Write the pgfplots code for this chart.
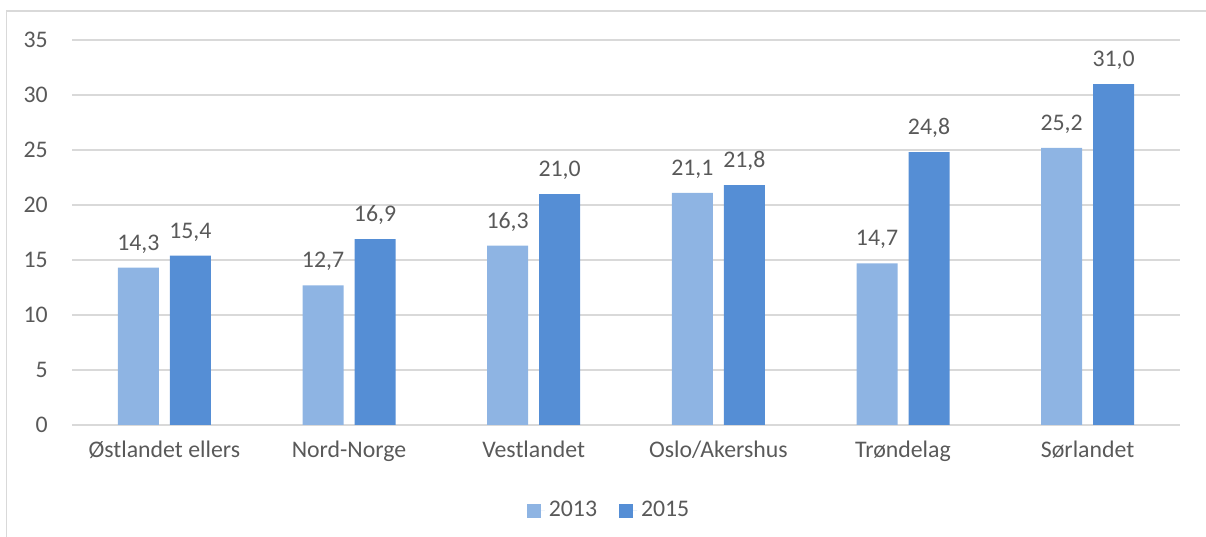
\documentclass[border=0pt]{standalone}
\usepackage{fontspec}
\setmainfont{Carlito}
\usepackage{pgfplots}
\pgfplotsset{compat=1.18}
\definecolor{cA}{HTML}{8EB4E3}
\definecolor{cB}{HTML}{558ED5}
\definecolor{txt}{HTML}{595959}
\definecolor{grd}{HTML}{D9D9D9}
\begin{document}
\fontsize{11.9bp}{14bp}\selectfont
\begin{tikzpicture}
\path[use as bounding box] (0,0) rectangle (603bp,268.5bp);
\draw[grd, line width=0.6bp] (3.2bp,0) -- (3.2bp,263bp) -- (603bp,263bp);
\begin{axis}[
  at={(36bp,56bp)}, anchor=south west,
  scale only axis, width=554bp, height=192.5bp,
  xmin=-0.5, xmax=5.5, ymin=0, ymax=35,
  ytick={0,5,...,35},
  xtick={0,1,2,3,4,5},
  xticklabels={Østlandet ellers,Nord-Norge,Vestlandet,Oslo/Akershus,Trøndelag,Sørlandet},
  major tick length=0pt,
  axis line style={draw=none},
  ymajorgrids, grid style={grd, line width=0.75bp},
  tick label style={text=txt, font=\fontsize{11.9bp}{14bp}\selectfont},
  yticklabel style={xshift=-8bp},
  xticklabel style={yshift=-4bp},
  /pgf/number format/assume math mode=true,
  ybar, bar width=20.5bp,
  nodes near coords,
  every node near coord/.append style={text=txt, font=\fontsize{11.9bp}{14bp}\selectfont, yshift=3bp,
    /pgf/number format/.cd, fixed, fixed zerofill, precision=1, use comma, assume math mode=true},
  legend style={at={(0.4856,-0.223)}, anchor=center, draw=none, legend columns=2,
    font=\fontsize{11.9bp}{14bp}\selectfont, text=txt,
    /tikz/every even column/.append style={column sep=9bp}},
  legend image code/.code={\fill[#1] (0bp,-3.5bp) rectangle (7bp,3.5bp); \path (0bp,0bp) -- (9bp,0bp);},
]
\addplot[fill=cA, draw=none, bar shift=-13bp] coordinates {(0,14.3) (1,12.7) (2,16.3) (3,21.1) (4,14.7) (5,25.2)};
\addplot[fill=cB, draw=none, bar shift=13bp] coordinates {(0,15.4) (1,16.9) (2,21.0) (3,21.8) (4,24.8) (5,31.0)};
\legend{2013,2015}
\end{axis}
\end{tikzpicture}
\end{document}
